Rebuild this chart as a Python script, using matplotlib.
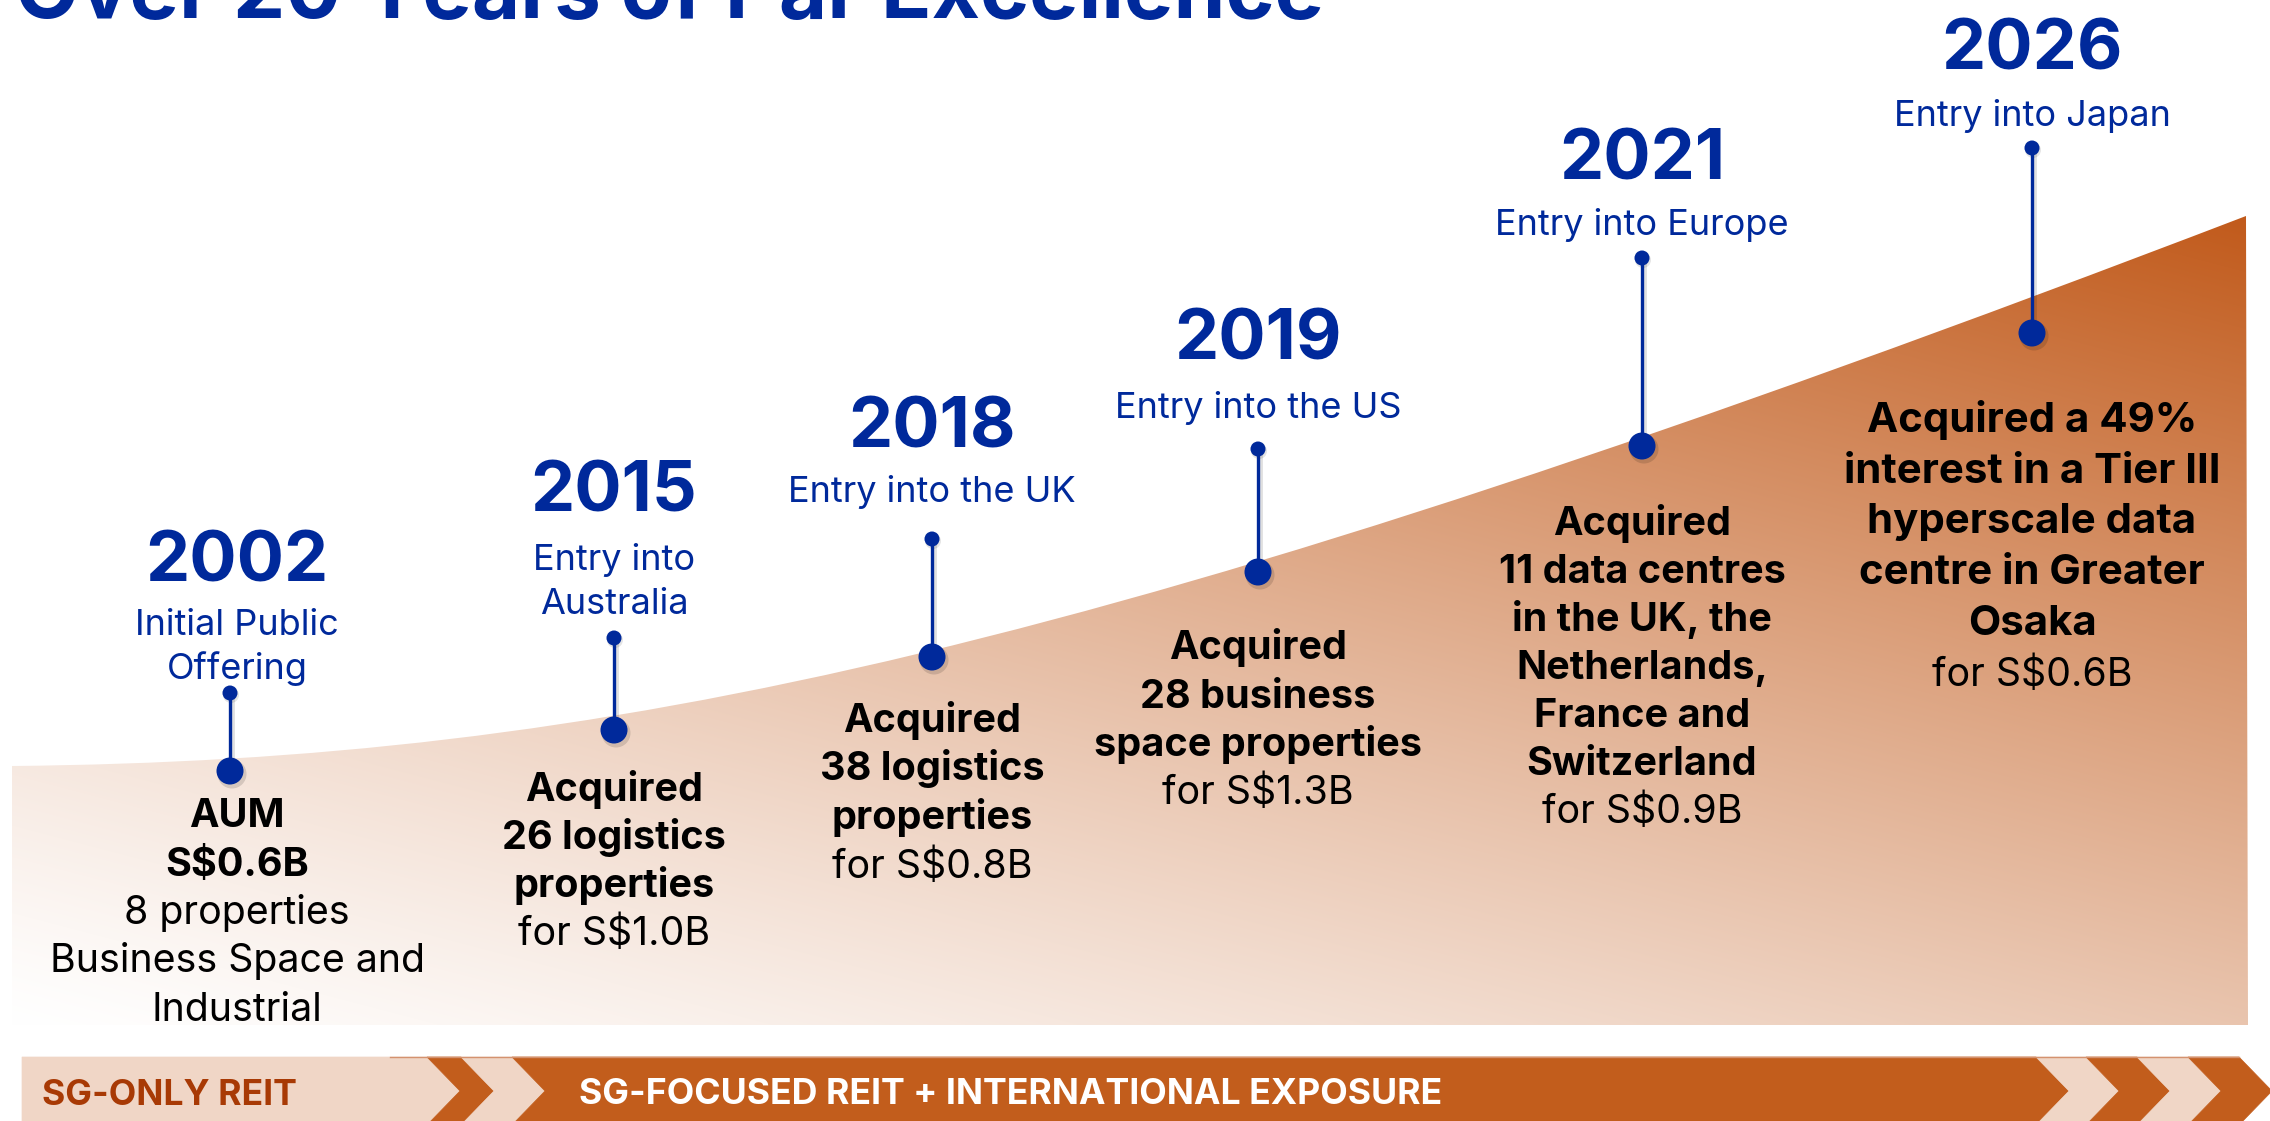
import numpy as np
import matplotlib
matplotlib.use('Agg')
import matplotlib.pyplot as plt
from matplotlib.path import Path
from matplotlib.patches import PathPatch, Polygon, Circle

# ---------------- data ----------------
title = "Over 20 Years of Par Excellence"
years = ['2002', '2015', '2018', '2019', '2021', '2026']
milestones = [['Initial Public', 'Offering'],
              ['Entry into', 'Australia'],
              ['Entry into the UK'],
              ['Entry into the US'],
              ['Entry into Europe'],
              ['Entry into Japan']]
details_bold = [['AUM', 'S$0.6B'],
                ['Acquired', '26 logistics', 'properties'],
                ['Acquired', '38 logistics', 'properties'],
                ['Acquired', '28 business', 'space properties'],
                ['Acquired', '11 data centres', 'in the UK, the', 'Netherlands,',
                 'France and', 'Switzerland'],
                ['Acquired a 49%', 'interest in a Tier III', 'hyperscale data',
                 'centre in Greater', 'Osaka']]
details_regular = [['8 properties', 'Business Space and', 'Industrial'],
                   ['for S$1.0B'],
                   ['for S$0.8B'],
                   ['for S$1.3B'],
                   ['for S$0.9B'],
                   ['for S$0.6B']]
phase_labels = ['SG-ONLY REIT', 'SG-FOCUSED REIT + INTERNATIONAL EXPOSURE']

# ---------------- layout (pixel positions) ----------------
W, H, DPI = 2270, 1121, 100
col_x = [230, 614, 932, 1258, 1642, 2032]
text_x = [237, 614, 932, 1258, 1642, 2032]
year_base = [582, 512, 448, 359, 180, 69]
sub_base = [635, 570, 502, 418, 235, 126]
sub_step = 44
stem_top = [693, 638, 539, 449, 258, 148]
dot_y = [771, 730, 657, 572, 446, 333]
body_base = [827, 801, 732, 659, 535, 432]
body_step = [48.5, 48, 48.5, 48.5, 48, 50.7]
bold_size = [28.5, 28.5, 28.5, 28.5, 28.5, 30.2]
reg_size = 28.3

BLUE = '#00299B'
DARK = '#C25D1C'
LIGHT = '#F0D6C6'
FONT = ['Inter', 'Roboto', 'DejaVu Sans']

plt.rcParams['font.family'] = FONT

fig = plt.figure(figsize=(W / DPI, H / DPI), dpi=DPI)
ax = fig.add_axes([0, 0, 1, 1])
ax.set_xlim(0, W)
ax.set_ylim(H, 0)
ax.axis('off')

# ---------------- gradient area ----------------
area_verts = [(12, 1025), (12, 766), (600, 760), (1100, 655), (2246, 216),
              (2248, 1025), (12, 1025)]
area_codes = [Path.MOVETO, Path.LINETO, Path.CURVE4, Path.CURVE4, Path.CURVE4,
              Path.LINETO, Path.CLOSEPOLY]
area = PathPatch(Path(area_verts, area_codes), facecolor='none', edgecolor='none')
ax.add_patch(area)

yy, xx = np.mgrid[0:H, 0:W] + 0.5
xf = np.clip((xx - 12) / 2235, 0, 1)
yf = np.clip((1025 - yy) / 809, 0, 1)
tt = np.clip(0.42 * xf + 0.58 * yf, 0, 1) ** 1.2
dark_rgb = np.array([193, 90, 27]) / 255
img = 1 - tt[..., None] * (1 - dark_rgb)
im = ax.imshow(img, extent=(0, W, H, 0), zorder=1, interpolation='bilinear',
               aspect='auto')
im.set_clip_path(area)

# ---------------- stems, dots, texts ----------------
for i in range(len(years)):
    x = col_x[i]
    ax.plot([x + 1.5, x + 1.5], [stem_top[i] + 2, dot_y[i] + 2], color='black',
            alpha=0.12, lw=3.5, zorder=3, solid_capstyle='round')
    ax.plot([x, x], [stem_top[i], dot_y[i]], color=BLUE, lw=2.4, zorder=4)
    ax.add_patch(Circle((x + 2, dot_y[i] + 3), 14.5, color='black', alpha=0.13,
                        zorder=3, lw=0))
    ax.add_patch(Circle((x, dot_y[i]), 13.5, color=BLUE, zorder=5, lw=0))
    ax.add_patch(Circle((x + 1, stem_top[i] + 2), 8, color='black', alpha=0.10,
                        zorder=3, lw=0))
    ax.add_patch(Circle((x, stem_top[i]), 7.5, color=BLUE, zorder=5, lw=0))

    tx = text_x[i]
    ax.text(tx, year_base[i], years[i], fontsize=50.5, fontweight='bold',
            color=BLUE, ha='center', va='baseline', zorder=6)
    for j, line in enumerate(milestones[i]):
        ax.text(tx, sub_base[i] + j * sub_step, line, fontsize=26,
                color=BLUE, ha='center', va='baseline', zorder=6)
    k = 0
    for line in details_bold[i]:
        ax.text(tx, body_base[i] + k * body_step[i], line, fontsize=bold_size[i],
                fontweight='bold', color='black', ha='center', va='baseline',
                zorder=6)
        k += 1
    for line in details_regular[i]:
        ax.text(tx, body_base[i] + k * body_step[i], line, fontsize=reg_size,
                color='black', ha='center', va='baseline', zorder=6)
        k += 1

# ---------------- bottom banner ----------------
top, bot, mid, tip = 1057, 1125, 1091, 33


def chevron(x0, x1, notch=True):
    pts = [(x0, top), (x1, top), (x1 + tip, mid), (x1, bot), (x0, bot)]
    if notch:
        pts.append((x0 + tip, mid))
    return pts


segments = [(22, 427, False, LIGHT), (427, 461, True, DARK),
            (461, 512, True, LIGHT), (512, 2036, True, DARK),
            (2036, 2086, True, LIGHT), (2086, 2137, True, DARK),
            (2137, 2188, True, LIGHT), (2188, 2239, True, DARK)]
for x0, x1, notch, c in segments:
    ax.add_patch(Polygon(chevron(x0, x1, notch), closed=True, facecolor=c,
                         edgecolor=c, lw=0.5, zorder=2))
ax.plot([390, 2239], [top, top], color='#D4926F', lw=1.0, zorder=2.5)

ax.text(42, 1105, phase_labels[0], fontsize=25.7, fontweight='bold',
        color='#A83A05', ha='left', va='baseline', zorder=6)
ax.text(579, 1104, phase_labels[1], fontsize=25.7, fontweight='bold',
        color='white', ha='left', va='baseline', zorder=6)

# ---------------- title (cropped at top like the reference) ----------------
tt_txt = ax.text(15, 18, title, fontsize=60, fontweight='bold', color=BLUE,
                 ha='left', va='baseline', zorder=6)
fig.canvas.draw()
bb = tt_txt.get_window_extent()
tt_txt.set_fontsize(60 * 1310 / bb.width)

fig.savefig('out.png', dpi=DPI)
